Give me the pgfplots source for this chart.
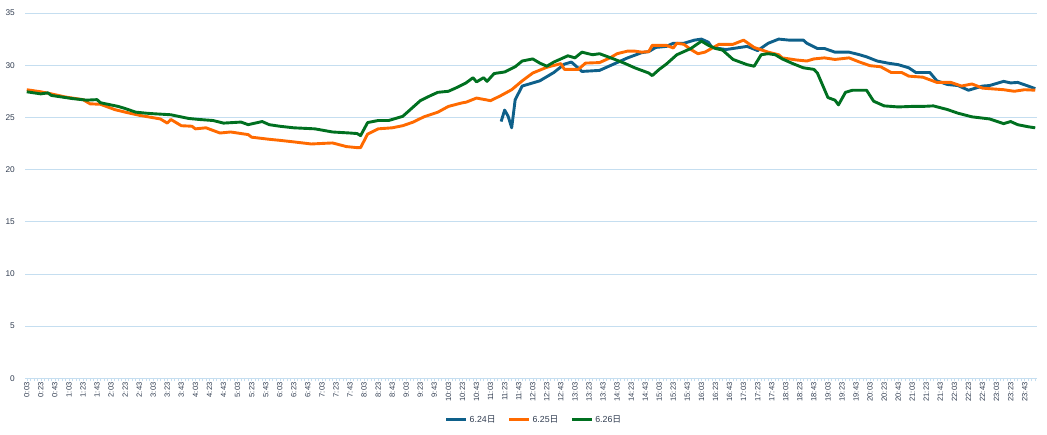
\documentclass[border=0pt]{standalone}
\usepackage{pgfplots}
\pgfplotsset{compat=1.18}
\usepackage{fontspec}
\setmainfont{Liberation Sans}
\newfontfamily\cjk{Noto Sans CJK SC}
\definecolor{cblue}{RGB}{14,96,138}
\definecolor{corange}{RGB}{255,106,0}
\definecolor{cgreen}{RGB}{0,112,32}
\definecolor{gridblue}{RGB}{197,222,240}
\definecolor{txt}{RGB}{48,60,80}
\begin{document}
\begin{tikzpicture}
\useasboundingbox (0,0) rectangle (1047bp,435bp);
\begin{axis}[
  at={(25bp,56.7bp)}, anchor=south west,
  scale only axis, width=1012bp, height=365.3bp,
  xmin=-0.5, xmax=287.5, ymin=0, ymax=35,
  axis x line*=bottom, axis y line*=left,
  y axis line style={draw=none},
  x axis line style={draw=gridblue, line width=0.8bp},
  ytick={0,5,...,35}, ymajorgrids,
  grid style={draw=gridblue, line width=0.8bp},
  ytick style={draw=none},
  xtick={0,4,...,284},
  minor xtick={0,1,...,287},
  xtick style={draw=gridblue, line width=0.5bp},
  tick align=outside, major tick length=3bp, minor tick length=3bp,
  xticklabels={0:03,0:23,0:43,1:03,1:23,1:43,2:03,2:23,2:43,3:03,3:23,3:43,4:03,4:23,4:43,5:03,5:23,5:43,6:03,6:23,6:43,7:03,7:23,7:43,8:03,8:23,8:43,9:03,9:23,9:43,10:03,10:23,10:43,11:03,11:23,11:43,12:03,12:23,12:43,13:03,13:23,13:43,14:03,14:23,14:43,15:03,15:23,15:43,16:03,16:23,16:43,17:03,17:23,17:43,18:03,18:23,18:43,19:03,19:23,19:43,20:03,20:23,20:43,21:03,21:23,21:43,22:03,22:23,22:43,23:03,23:23,23:43},
  xticklabel style={rotate=90, anchor=east, font=\fontsize{7.6bp}{8bp}\selectfont, text=txt, inner sep=1bp},
  yticklabel style={font=\fontsize{8.3bp}{9bp}\selectfont, text=txt, inner sep=1bp, xshift=-6bp},
  /pgf/number format/assume math mode=true,
  legend style={at={(0.503,-0.114)}, anchor=center, draw=none, fill=none,
    font=\fontsize{8.8bp}{10bp}\selectfont, text=txt, legend columns=3,
    /tikz/every even column/.append style={column sep=10bp}},
  legend image code/.code={\draw[#1] (0bp,0bp) -- (20bp,0bp);},
  every axis plot/.append style={line width=2.9bp, line join=round, no markers},
]
\addplot[cblue] coordinates {
(135,24.6)(136,25.7)(137,25.1)(138,24.0)(139,26.7)(141,28.0)(143,28.2)(146,28.5)
(150,29.3)(153,30.1)(155,30.3)(157,29.7)(158,29.4)(163,29.5)(167,30.1)(171,30.7)
(175,31.2)(177,31.3)(179,31.7)(182,31.8)(184,32.1)(187,32.1)(190,32.4)(192,32.5)
(194,32.2)(195,31.7)(199,31.5)(205,31.8)(208,31.4)(211,32.1)(214,32.5)(217,32.4)
(221,32.4)(222,32.1)(225,31.6)(227,31.6)(230,31.25)(234,31.25)(237,31.0)(239,30.8)
(242,30.4)(245,30.2)(248,30.05)(251,29.75)(253,29.3)(257,29.3)(259,28.5)(262,28.15)
(265,28.05)(268,27.6)(272,28.0)(274,28.05)(278,28.45)(280,28.3)(282,28.35)(285,28.0)
(287,27.75)};
\addlegendentry{6.24{\cjk 日}}
\addplot[corange] coordinates {
(0,27.65)(4,27.45)(7,27.25)(11,26.95)(16,26.7)(18,26.3)(21,26.25)(25,25.75)
(28,25.5)(32,25.2)(38,24.85)(40,24.45)(41,24.8)(44,24.2)(47,24.15)(48,23.9)
(51,24.0)(55,23.5)(58,23.6)(63,23.35)(64,23.1)(69,22.9)(72,22.8)(76,22.65)
(81,22.45)(87,22.55)(91,22.2)(94,22.1)(95,22.1)(97,23.4)(100,23.9)(104,24.0)
(107,24.2)(110,24.55)(113,25.05)(117,25.5)(120,26.05)(124,26.4)(125,26.45)(128,26.85)
(132,26.6)(135,27.1)(138,27.65)(141,28.5)(144,29.25)(148,29.8)(152,30.15)(153,29.6)
(157,29.6)(159,30.2)(163,30.25)(166,30.7)(168,31.1)(171,31.35)(173,31.35)(175,31.25)
(177,31.3)(178,31.9)(182,31.9)(184,31.65)(185,32.1)(187,32.0)(189,31.5)(191,31.1)
(193,31.25)(197,32.0)(201,32.0)(204,32.4)(207,31.7)(211,31.25)(214,31.0)(215,30.7)
(219,30.5)(222,30.4)(224,30.6)(227,30.7)(230,30.55)(234,30.7)(237,30.3)(240,29.95)
(243,29.85)(246,29.3)(249,29.3)(251,28.95)(255,28.85)(259,28.35)(263,28.35)(266,28.0)
(269,28.2)(272,27.8)(278,27.65)(281,27.5)(284,27.65)(287,27.6)};
\addlegendentry{6.25{\cjk 日}}
\addplot[cgreen] coordinates {
(0,27.45)(4,27.25)(6,27.35)(7,27.1)(13,26.8)(17,26.65)(20,26.7)(21,26.4)
(26,26.05)(28,25.85)(31,25.5)(34,25.4)(36,25.35)(41,25.25)(46,24.9)(49,24.8)
(53,24.7)(56,24.45)(61,24.55)(63,24.3)(67,24.6)(69,24.3)(72,24.15)(76,24.0)
(82,23.9)(87,23.6)(92,23.5)(94,23.45)(95,23.25)(97,24.5)(100,24.7)(103,24.7)
(105,24.9)(107,25.1)(110,26.0)(112,26.6)(115,27.1)(117,27.4)(120,27.5)(122,27.8)
(125,28.3)(127,28.8)(128,28.4)(130,28.8)(131,28.45)(133,29.2)(136,29.35)(139,29.85)
(141,30.4)(144,30.6)(146,30.2)(148,29.9)(150,30.3)(154,30.9)(156,30.7)(158,31.25)
(161,31.0)(163,31.1)(167,30.6)(170,30.2)(173,29.75)(177,29.25)(178,29.0)(180,29.6)
(182,30.1)(185,31.0)(189,31.6)(192,32.3)(194,31.9)(196,31.6)(198,31.45)(201,30.55)
(205,30.05)(207,29.9)(209,31.0)(211,31.1)(213,31.0)(215,30.6)(218,30.15)(221,29.75)
(224,29.6)(225,29.25)(228,26.9)(230,26.65)(231,26.2)(233,27.4)(235,27.6)(239,27.6)
(241,26.55)(244,26.1)(248,26.0)(252,26.05)(255,26.05)(258,26.1)(262,25.75)(265,25.4)
(269,25.05)(274,24.85)(278,24.4)(280,24.6)(282,24.3)(285,24.1)(287,24.0)};
\addlegendentry{6.26{\cjk 日}}
\end{axis}
\end{tikzpicture}
\end{document}
